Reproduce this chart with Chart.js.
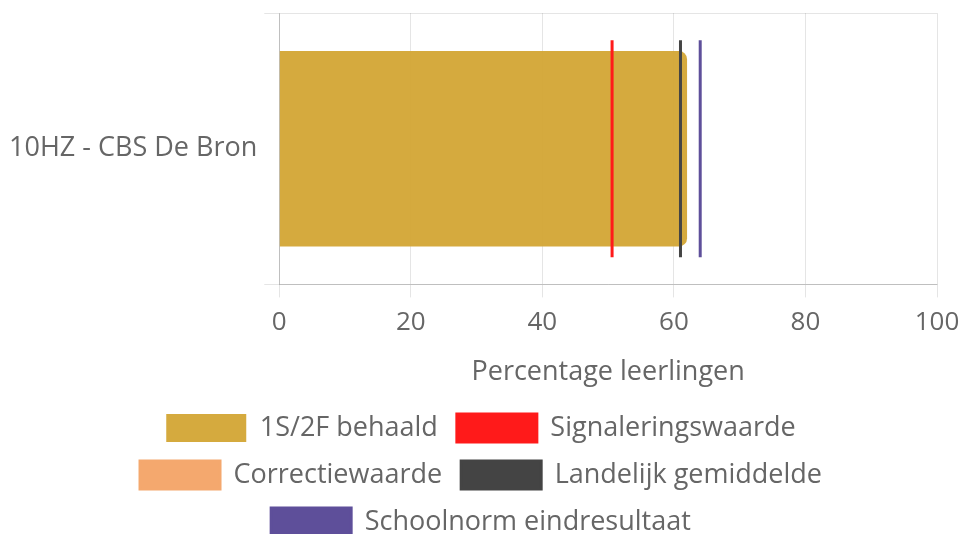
<!DOCTYPE html>
<html>
<head>
<meta charset="utf-8">
<script src="https://cdn.jsdelivr.net/npm/chart.js@4/dist/chart.umd.min.js"></script>
<style>
    html, body { margin: 0; padding: 0; background: #fff; }
    #wrap { width: 966px; height: 534px; }
</style>
</head>
<body>
<div id="wrap"><canvas id="chart"></canvas></div>
<script>
// Chart data
const categories = ['10HZ - CBS De Bron'];
const behaald = [62];
const signaleringswaarde = 50.6;
const landelijkGemiddelde = 61;
const schoolnorm = 64;
const xTicks = [0, 20, 40, 60, 80, 100];

// vertical marker: two points across the category band (hidden y2 axis -0.5..0.5)
function marker(value) {
    return [{ x: value, y: -0.4 }, { x: value, y: 0.4 }];
}

function lineDataset(label, color, data) {
    return {
        type: 'line',
        label: label,
        data: data,
        yAxisID: 'y2',
        order: 0,
        borderColor: color,
        backgroundColor: color,
        borderWidth: 3,
        pointRadius: 0,
        pointHoverRadius: 0,
        fill: false
    };
}

Chart.defaults.font.family = '"Open Sans", "Noto Sans", sans-serif';
Chart.defaults.color = '#666';

const ctx = document.getElementById('chart');
new Chart(ctx, {
    type: 'bar',
    data: {
        labels: categories,
        datasets: [
            {
                label: '1S/2F behaald',
                data: behaald,
                order: 1,
                backgroundColor: 'rgba(211, 167, 54, 0.96)',
                borderRadius: 8,
                borderSkipped: 'start',
                grouped: false
            },
            lineDataset('Signaleringswaarde', '#ff1a1a', marker(signaleringswaarde)),
            lineDataset('Correctiewaarde', '#f4a86e', []),
            lineDataset('Landelijk gemiddelde', '#444444', marker(landelijkGemiddelde)),
            lineDataset('Schoolnorm eindresultaat', '#5e4f9a', marker(schoolnorm))
        ]
    },
    options: {
        indexAxis: 'y',
        responsive: true,
        maintainAspectRatio: false,
        animation: false,
        layout: { padding: { top: 3, right: 6, left: 2, bottom: -12 } },
        scales: {
            x: {
                min: 0,
                max: 100,
                afterBuildTicks: axis => { axis.ticks = xTicks.map(v => ({ value: v })); },
                // room for the "100" label only, without the tick padding
                afterFit: axis => { axis.paddingRight = 29; },
                grid: { color: 'rgba(0,0,0,0.1)', tickLength: 13 },
                border: { color: 'rgba(0,0,0,0.17)' },
                ticks: { font: { size: 26 }, padding: 10 },
                title: {
                    display: true,
                    text: 'Percentage leerlingen',
                    font: { size: 27 },
                    padding: { top: 8, bottom: 6 }
                }
            },
            y: {
                grid: { color: 'rgba(0,0,0,0.1)', tickLength: 15 },
                border: { color: 'rgba(0,0,0,0.17)' },
                // small lineHeight keeps the label from pushing the plot area down
                ticks: { font: { size: 27, lineHeight: 0.45 }, padding: 7 }
            },
            y2: {
                type: 'linear',
                display: false,
                offset: false,
                grid: { offset: false },
                min: -0.5,
                max: 0.5
            }
        },
        plugins: {
            legend: {
                position: 'bottom',
                labels: {
                    boxWidth: 80,
                    boxHeight: 28,
                    padding: 19,
                    font: { size: 27 },
                    sort: (a, b) => a.datasetIndex - b.datasetIndex
                }
            },
            tooltip: { enabled: false }
        }
    }
});
</script>
</body>
</html>
